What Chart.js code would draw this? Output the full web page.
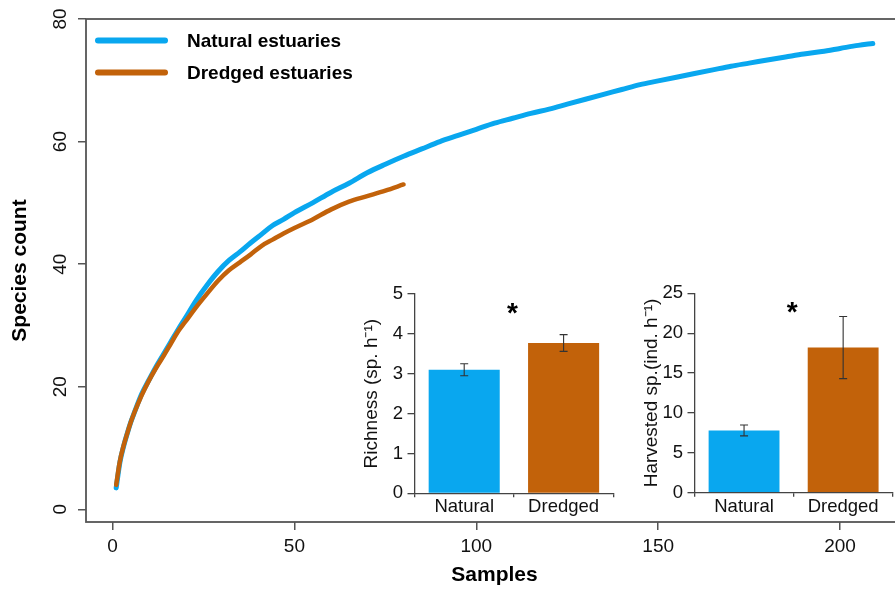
<!DOCTYPE html>
<html><head><meta charset="utf-8">
<script src="https://cdn.jsdelivr.net/npm/chart.js@4"></script>
<style>
html,body{margin:0;padding:0;background:#fff;width:895px;height:589px;overflow:hidden;position:relative}
canvas{position:absolute;display:block}
</style></head><body>
<canvas id="main" width="910" height="589" style="left:0;top:0"></canvas>
<canvas id="rich" width="290" height="255" style="left:340px;top:270px"></canvas>
<canvas id="harv" width="275" height="255" style="left:620px;top:270px"></canvas>
<script>
// ---- data ----
const seriesNames = ['Natural estuaries', 'Dredged estuaries'];
const naturalSamples = [1,2,3,4,5,6,8,10,12,14,16,18,20,23,26,29,32,35,38,41,44,47,50,55,60,65,70,75,80,85,90,95,100,105,110,115,120,125,130,135,140,145,150,155,160,165,170,175,180,185,190,195,200,205,209];
const naturalSpecies = [3.5,7.6,10.2,12.3,14.2,15.8,18.8,21.1,23.3,25.3,27.3,29.3,31.2,34.1,36.6,38.8,40.6,42.0,43.5,44.9,46.3,47.3,48.4,50.0,51.7,53.2,54.9,56.3,57.6,58.8,60.0,61.0,62.0,63.0,63.8,64.6,65.3,66.1,66.9,67.7,68.5,69.3,69.9,70.5,71.1,71.7,72.3,72.8,73.3,73.8,74.3,74.7,75.2,75.7,76.0];
const dredgedSamples = [1,2,3,4,5,6,8,10,12,14,16,18,20,23,26,29,32,35,38,41,44,47,50,55,60,65,70,75,80];
const dredgedSpecies = [4.0,7.8,10.3,12.3,14.2,15.8,18.6,21.0,23.1,25.0,27.0,29.0,30.6,33.0,35.2,37.3,39.0,40.3,41.6,43.0,44.0,45.0,45.9,47.3,48.9,50.2,51.1,52.0,53.0];
const xTicks = [0,50,100,150,200];
const yTicks = [0,20,40,60,80];

const groups = ['Natural', 'Dredged'];
const richnessMean = [3.1, 3.77];
const richnessErr = [0.15, 0.21];
const richnessTicks = [0,1,2,3,4,5];
const harvestedMean = [7.8, 18.2];
const harvestedErr = [0.68, 3.9];
const harvestedTicks = [0,5,10,15,20,25];

// ---- style ----
const BLUE = '#09A7EF', ORANGE = '#C2620A';
const FAM = '"Liberation Sans", Arial, Helvetica, sans-serif';

const toPts = (xs, ys) => xs.map((x, i) => ({x: x, y: ys[i]}));

const boxPlugin = {
  id: 'box',
  afterDraw(chart) {
    const a = chart.chartArea, ctx = chart.ctx;
    ctx.save();
    ctx.strokeStyle = '#555'; ctx.lineWidth = 1.8;
    ctx.strokeRect(a.left, a.top, a.right - a.left, a.bottom - a.top);
    ctx.restore();
  }
};
const yLabelPlugin = {
  id: 'ylab',
  afterDraw(chart) {
    const ys = chart.scales.y, ctx = chart.ctx;
    ctx.save();
    ctx.font = '19px ' + FAM; ctx.fillStyle = '#111';
    ctx.textAlign = 'center'; ctx.textBaseline = 'middle';
    ys.ticks.forEach(t => {
      const py = ys.getPixelForValue(t.value);
      ctx.save(); ctx.translate(61, py); ctx.rotate(-Math.PI / 2);
      ctx.fillText(String(t.value), 0, 0); ctx.restore();
    });
    ctx.restore();
  }
};
const legendPlugin = {
  id: 'leg',
  afterDraw(chart) {
    const a = chart.chartArea, ctx = chart.ctx;
    ctx.save();
    chart.data.datasets.forEach((ds, i) => {
      const y = a.top + 21.5 + i * 32;
      ctx.strokeStyle = ds.borderColor; ctx.lineWidth = 6; ctx.lineCap = 'round';
      ctx.beginPath(); ctx.moveTo(a.left + 12, y); ctx.lineTo(a.left + 79, y); ctx.stroke();
      ctx.fillStyle = '#000'; ctx.font = 'bold 19px ' + FAM;
      ctx.textAlign = 'left'; ctx.textBaseline = 'middle';
      ctx.fillText(ds.label, a.left + 101, y + 1);
    });
    ctx.restore();
  }
};

new Chart(document.getElementById('main'), {
  type: 'line',
  data: { datasets: [
    { label: seriesNames[0], data: toPts(naturalSamples, naturalSpecies), borderColor: BLUE, borderWidth: 5, order: 1 },
    { label: seriesNames[1], data: toPts(dredgedSamples, dredgedSpecies), borderColor: ORANGE, borderWidth: 4.5, order: 0 }
  ]},
  options: {
    responsive: false, animation: false, devicePixelRatio: 1,
    layout: { padding: { left: 0, top: 19, right: 7, bottom: 0 } },
    elements: { point: { radius: 0 }, line: { cubicInterpolationMode: 'monotone', borderCapStyle: 'round', borderJoinStyle: 'round', fill: false } },
    plugins: { legend: { display: false }, tooltip: { enabled: false } },
    scales: {
      x: {
        type: 'linear', min: -7.3, max: 217.3,
        afterFit: s => { s.height = 67; },
        afterBuildTicks: s => { s.ticks = xTicks.map(v => ({ value: v })); },
        grid: { drawOnChartArea: false, drawTicks: true, tickLength: 8, color: '#555', lineWidth: 1.5 },
        border: { display: false },
        ticks: { font: { family: FAM, size: 19 }, color: '#111', padding: 5, maxRotation: 0, autoSkip: false },
        title: { display: true, text: 'Samples', color: '#000', font: { family: FAM, size: 21, weight: 'bold' }, padding: { top: 0, bottom: 1.4 } }
      },
      y: {
        type: 'linear', min: -2.07, max: 80,
        afterFit: s => { s.width = 86; },
        afterBuildTicks: s => { s.ticks = yTicks.map(v => ({ value: v })); },
        grid: { drawOnChartArea: false, drawTicks: true, tickLength: 8, color: '#555', lineWidth: 1.5 },
        border: { display: false },
        ticks: { display: false },
        title: { display: true, text: 'Species count', color: '#000', font: { family: FAM, size: 21, weight: 'bold' }, padding: { top: 7.4, bottom: 0 } }
      }
    }
  },
  plugins: [boxPlugin, yLabelPlugin, legendPlugin]
});

function errPlugin(means, errs) {
  return {
    id: 'err',
    afterDatasetsDraw(chart) {
      const meta = chart.getDatasetMeta(0), ys = chart.scales.y, xs = chart.scales.x, ctx = chart.ctx;
      ctx.save();
      ctx.strokeStyle = '#333'; ctx.lineWidth = 1.1;
      meta.data.forEach((bar, i) => {
        const yt = ys.getPixelForValue(means[i] + errs[i]);
        const yb = ys.getPixelForValue(means[i] - errs[i]);
        ctx.beginPath();
        ctx.moveTo(bar.x, yt); ctx.lineTo(bar.x, yb);
        ctx.moveTo(bar.x - 4, yt); ctx.lineTo(bar.x + 4, yt);
        ctx.moveTo(bar.x - 4, yb); ctx.lineTo(bar.x + 4, yb);
        ctx.stroke();
      });
      ctx.fillStyle = '#000'; ctx.font = 'bold 28px ' + FAM;
      ctx.textAlign = 'center'; ctx.textBaseline = 'alphabetic';
      ctx.fillText('*', xs.getPixelForValue(0.5) - 1.5, chart.chartArea.top + 28);
      ctx.restore();
    }
  };
}

function makeInset(id, means, errs, ticks, title, padTop, padRight, xHeight) {
  new Chart(document.getElementById(id), {
    type: 'bar',
    data: { labels: groups, datasets: [{ data: means, backgroundColor: [BLUE, ORANGE], borderWidth: 0, barPercentage: 0.715, categoryPercentage: 1 }] },
    options: {
      responsive: false, animation: false, devicePixelRatio: 1,
      layout: { padding: { left: 0, top: padTop, right: padRight, bottom: 0 } },
      plugins: { legend: { display: false }, tooltip: { enabled: false } },
      scales: {
        x: {
          afterFit: s => { s.height = xHeight; },
          grid: { offset: true, drawOnChartArea: false, drawTicks: true, tickLength: 4, color: '#444', lineWidth: 1.3 },
          border: { display: true, color: '#444', width: 1.3 },
          ticks: { font: { family: FAM, size: 18.5 }, color: '#111', padding: -1, maxRotation: 0 }
        },
        y: {
          min: 0, max: ticks[ticks.length - 1],
          afterFit: s => { s.width = 74.5; },
          afterBuildTicks: s => { s.ticks = ticks.map(v => ({ value: v })); },
          grid: { drawOnChartArea: false, drawTicks: true, tickLength: 7, color: '#444', lineWidth: 1.3 },
          border: { display: true, color: '#444', width: 1.3 },
          ticks: { font: { family: FAM, size: 18.5 }, color: '#111', padding: 4.5 },
          title: { display: true, text: title, color: '#111', font: { family: FAM, size: 19 }, padding: { top: 20.3, bottom: 0 } }
        }
      }
    },
    plugins: [errPlugin(means, errs)]
  });
}

makeInset('rich', richnessMean, richnessErr, richnessTicks, 'Richness (sp. h\u207B\u00B9)', 24, 16.7, 31.7);
makeInset('harv', harvestedMean, harvestedErr, harvestedTicks, 'Harvested sp.(ind. h\u207B\u00B9)', 23.3, 2.3, 32.3);
</script>
</body></html>
